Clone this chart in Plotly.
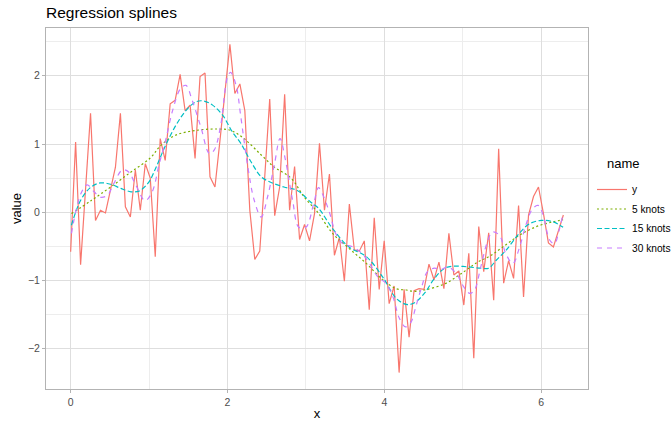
import numpy as np
import plotly.graph_objects as go

# ---- data ----
n_points = 100
x_end = 2 * np.pi
x_data = list(np.linspace(0, x_end, n_points))

y_values = [-0.58, 1.03, -0.77, 0.34, 1.45, -0.12, 0.03, -0.01, 0.32, 0.66,
            1.45, 0.08, -0.07, 0.62, 0.03, 0.71, 0.50, -0.65, 1.08, 0.76,
            1.59, 1.64, 2.02, 1.49, 1.57, 0.79, 1.99, 2.04, 0.52, 0.37,
            1.05, 1.74, 2.46, 1.74, 1.88, 1.49, 0.03, -0.69, -0.57, 0.52,
            1.66, -0.05, 0.37, 1.73, 0.03, 0.67, -0.40, -0.18, -0.42, -0.02,
            1.01, 0.03, 0.56, -0.63, -0.37, -1.01, 0.12, -0.55, -0.57, -0.42,
            -1.43, -0.08, -1.13, -0.42, -1.34, -1.08, -2.35, -1.13, -1.83, -1.15,
            -1.12, -1.13, -0.76, -0.99, -0.73, -1.12, -0.31, -0.92, -0.86, -1.36,
            -0.60, -2.14, -0.21, -0.87, -0.30, -1.29, 0.93, -1.04, -0.71, -0.97,
            0.10, -1.24, -0.04, 0.23, 0.37, -0.02, -0.45, -0.51, -0.26, -0.04]

k5_x = [0.01, 0.26, 0.51, 0.77, 1.02, 1.15, 1.34, 1.60, 1.87, 2.04, 2.21, 2.43,
        2.60, 2.81, 2.98, 3.15, 3.34, 3.55, 3.77, 3.98, 4.15, 4.28, 4.38, 4.51,
        4.77, 4.98, 5.19, 5.35, 5.51, 5.72, 5.94, 6.15, 6.28]
k5_y = [-0.02, 0.17, 0.37, 0.59, 0.80, 0.98, 1.13, 1.20, 1.22, 1.20, 1.08, 0.84,
        0.66, 0.50, 0.22, 0.00, -0.31, -0.53, -0.75, -0.99, -1.12, -1.14, -1.16, -1.14,
        -1.05, -0.90, -0.73, -0.64, -0.51, -0.34, -0.21, -0.14, -0.11]

k15_x = [0.01, 0.13, 0.26, 0.38, 0.51, 0.64, 0.77, 0.87, 0.99, 1.09, 1.21, 1.34,
         1.47, 1.60, 1.70, 1.81, 1.94, 2.06, 2.17, 2.30, 2.43, 2.55, 2.72, 2.89,
         3.06, 3.16, 3.34, 3.55, 3.77, 3.98, 4.15, 4.28, 4.38, 4.51, 4.64, 4.77,
         4.89, 5.06, 5.23, 5.33, 5.43, 5.55, 5.72, 5.85, 6.00, 6.15, 6.28]
k15_y = [-0.19, 0.18, 0.37, 0.43, 0.41, 0.35, 0.30, 0.31, 0.43, 0.66, 0.98, 1.27,
         1.49, 1.62, 1.63, 1.57, 1.42, 1.18, 1.01, 0.74, 0.52, 0.44, 0.37, 0.32,
         0.15, 0.06, -0.24, -0.51, -0.65, -0.95, -1.26, -1.35, -1.33, -1.19, -0.97, -0.82,
         -0.79, -0.80, -0.82, -0.82, -0.70, -0.56, -0.31, -0.17, -0.12, -0.14, -0.22]

k30_x = [0.01, 0.13, 0.21, 0.30, 0.38, 0.47, 0.55, 0.66, 0.74, 0.83, 0.95, 1.04,
         1.13, 1.21, 1.30, 1.40, 1.47, 1.55, 1.66, 1.77, 1.83, 1.91, 2.00, 2.04,
         2.11, 2.17, 2.26, 2.34, 2.43, 2.51, 2.60, 2.67, 2.74, 2.83, 2.91, 3.00,
         3.10, 3.16, 3.21, 3.30, 3.38, 3.47, 3.60, 3.72, 3.81, 3.92, 4.02, 4.11,
         4.19, 4.27, 4.34, 4.40, 4.47, 4.55, 4.64, 4.72, 4.81, 4.92, 5.00, 5.09,
         5.15, 5.23, 5.31, 5.38, 5.47, 5.55, 5.64, 5.72, 5.81, 5.89, 5.96, 6.02,
         6.11, 6.17, 6.23, 6.28]
k30_y = [-0.31, 0.27, 0.40, 0.30, 0.22, 0.25, 0.42, 0.62, 0.59, 0.40, 0.17, 0.30,
         0.71, 1.05, 1.49, 1.81, 1.86, 1.64, 1.25, 0.86, 0.91, 1.25, 1.98, 2.05,
         1.86, 1.40, 0.66, 0.18, -0.07, 0.22, 0.71, 1.08, 0.76, 0.18, -0.22, -0.22,
         0.13, 0.36, 0.27, 0.00, -0.31, -0.46, -0.51, -0.61, -0.75, -0.95, -1.04, -1.24,
         -1.55, -1.68, -1.61, -1.39, -1.12, -0.87, -0.82, -0.84, -0.80, -0.90, -1.07, -1.19,
         -1.14, -0.80, -0.45, -0.29, -0.34, -0.61, -0.75, -0.53, -0.17, 0.05, 0.10, -0.02,
         -0.41, -0.46, -0.26, -0.02]

names = ["y", "5 knots", "15 knots", "30 knots"]
colors = ["#F8766D", "#7CAE00", "#00BFC4", "#C77CFF"]

FONT = "Liberation Sans, Arial, sans-serif"

fig = go.Figure()
fig.add_trace(go.Scatter(x=x_data, y=y_values, mode="lines", name=names[0], legendgroup="g0",
                         line=dict(color=colors[0], width=1.2)))
fig.add_trace(go.Scatter(x=k5_x, y=k5_y, mode="lines", name=names[1], legendgroup="g1",
                         line=dict(color=colors[1], width=1.2, dash="2px,2.5px", shape="spline")))
fig.add_trace(go.Scatter(x=k15_x, y=k15_y, mode="lines", name=names[2], legendgroup="g2",
                         line=dict(color=colors[2], width=1.2, dash="5px,2.5px", shape="spline")))
fig.add_trace(go.Scatter(x=k30_x, y=k30_y, mode="lines", name=names[3], legendgroup="g3",
                         line=dict(color=colors[3], width=1.2, dash="5px,5px", shape="spline")))

xmin, xmax = 0, x_end
ymin, ymax = min(y_values), max(y_values)
xpad = (xmax - xmin) * 0.05
ypad = (ymax - ymin) * 0.05

axis_common = dict(
    showgrid=True, gridcolor="#DEDEDE", gridwidth=1,
    zeroline=False, showline=True, mirror=True, linecolor="#B3B3B3", linewidth=1,
    ticks="outside", ticklen=3, tickcolor="#B3B3B3", tickwidth=1,
    tickfont=dict(family=FONT, size=10.5, color="#4D4D4D"),
)

fig.update_layout(
    width=671, height=421,
    margin=dict(l=46, r=83, t=28, b=32, autoexpand=False),
    paper_bgcolor="white", plot_bgcolor="white",
    font=dict(family=FONT, color="black"),
    title=dict(text="Regression splines", x=46 / 671, xanchor="left",
               y=1 - 13 / 421, yanchor="middle", yref="container",
               font=dict(family=FONT, size=15.5, color="black")),
    xaxis=dict(range=[xmin - xpad, xmax + xpad], tickvals=[0, 2, 4, 6],
               ticktext=["0", "2", "4", "6"],
               minor=dict(showgrid=True, gridcolor="#EDEDED", tickvals=[1, 3, 5]),
               title=dict(text="x", font=dict(family=FONT, size=13, color="black"), standoff=4),
               **axis_common),
    yaxis=dict(range=[ymin - ypad, ymax + ypad], tickvals=[-2, -1, 0, 1, 2],
               ticktext=["\u22122", "\u22121", "0", "1", "2"],
               minor=dict(showgrid=True, gridcolor="#EDEDED", tickvals=[-1.5, -0.5, 0.5, 1.5, 2.5]),
               title=dict(text="value", font=dict(family=FONT, size=13, color="black"), standoff=3),
               **axis_common),
    legend=dict(font=dict(family=FONT, size=10.2, color="black"),
                x=(592 - 46) / 542, xanchor="left", y=(389 - 175) / 361, yanchor="top",
                itemwidth=30, bgcolor="rgba(0,0,0,0)", tracegroupgap=0.5),
    annotations=[dict(text="name", x=(605 - 46) / 542, xref="paper", xanchor="left",
                      y=(389 - 163) / 361, yref="paper", yanchor="middle", showarrow=False,
                      font=dict(family=FONT, size=13, color="black"))],
)

fig.write_html("out.html")
